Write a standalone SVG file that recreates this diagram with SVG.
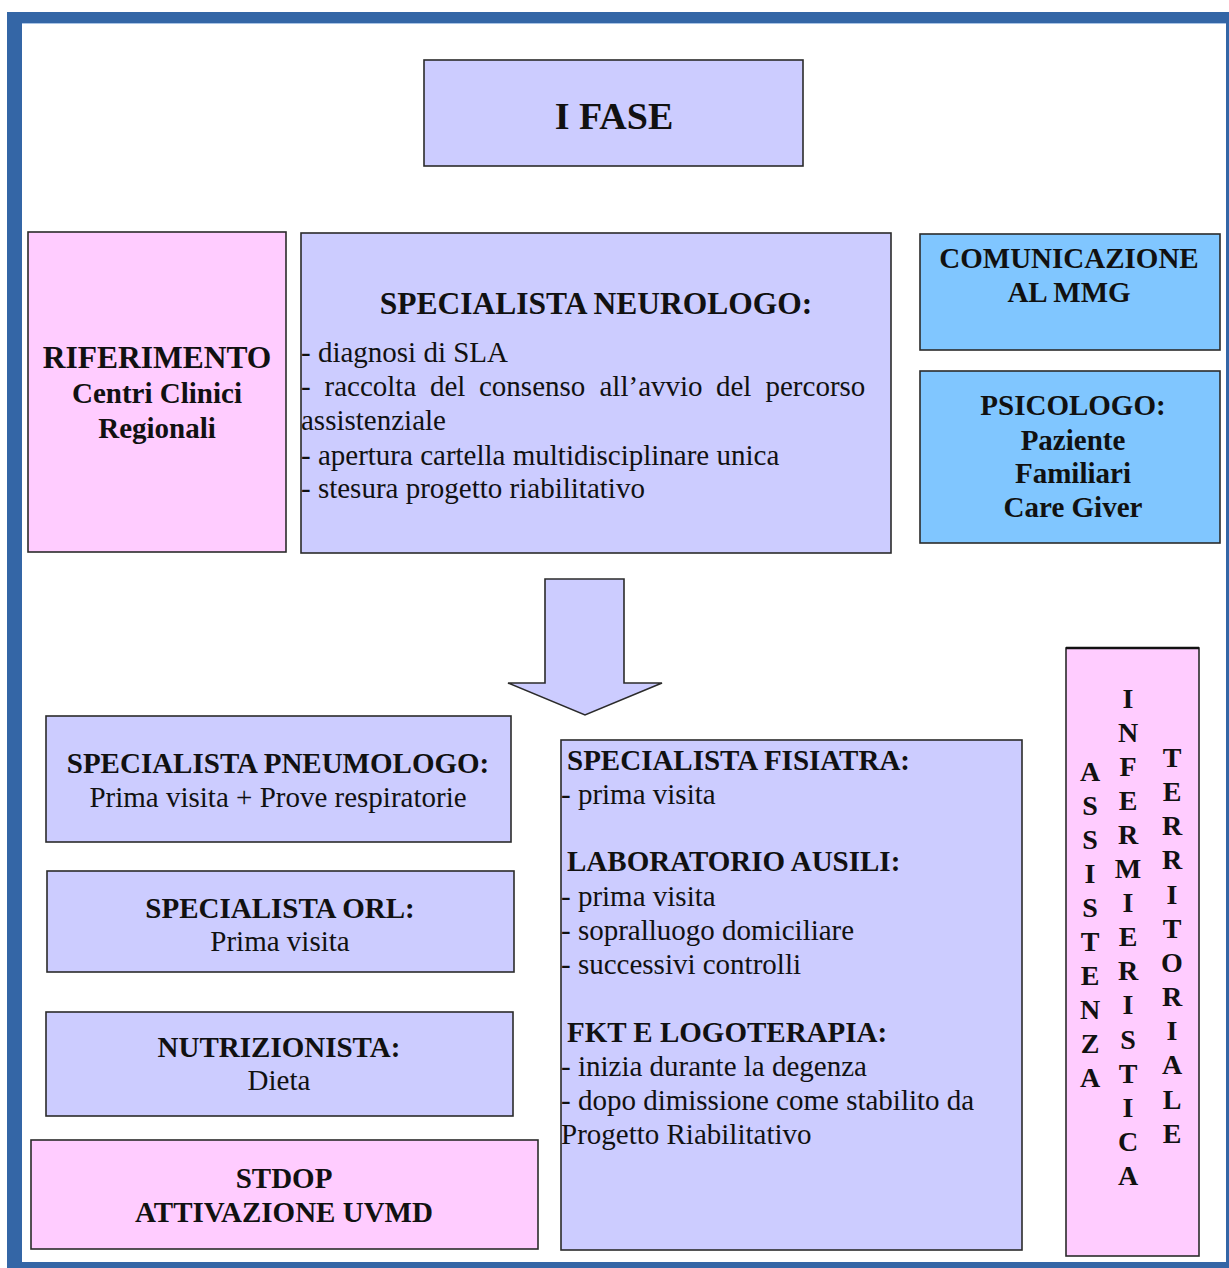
<svg xmlns="http://www.w3.org/2000/svg" width="1229" height="1268" viewBox="0 0 1229 1268">
<defs>
<style>
.box{stroke:#2b2b2b;stroke-width:1.6}
.lav{fill:#ccccff}
.pink{fill:#ffccff}
.sky{fill:#80c6ff}
text{font-family:"Liberation Serif","Times New Roman",serif;fill:#111}
.b{font-weight:bold;font-size:29px}
.r{font-size:29px}
.c{text-anchor:middle}
.v{font-weight:bold;font-size:28px;text-anchor:middle}
</style>
</defs>
<rect x="0" y="0" width="1229" height="1268" fill="#ffffff"/>
<rect x="7" y="12" width="1222" height="1256" fill="#3466a6"/>
<rect x="22" y="23" width="1204" height="1239" fill="#ffffff"/>
<line x1="22" y1="23.5" x2="1226" y2="23.5" stroke="#a9c4e6" stroke-width="1"/>

<g id="connectors">
<polygon points="545,579 624,579 624,683 662,683 585,715 508,683 545,683" fill="#ccccff" stroke="#2b2b2b" stroke-width="1.6"/>
</g>

<g id="i-fase">
<rect class="box lav" x="424" y="60" width="379" height="106"/>
<text class="c" x="614" y="129" font-weight="bold" font-size="38">I FASE</text>
</g>

<g id="riferimento">
<rect class="box pink" x="28" y="232" width="258" height="320"/>
<text class="c" x="157" y="368" font-weight="bold" font-size="31.5">RIFERIMENTO</text>
<text class="b c" x="157" y="403">Centri Clinici</text>
<text class="b c" x="157" y="438">Regionali</text>
</g>

<g id="neurologo">
<rect class="box lav" x="301" y="233" width="590" height="320"/>
<text class="c" x="596" y="314" font-weight="bold" font-size="31.5">SPECIALISTA NEUROLOGO:</text>
<text class="r" x="301" y="362">- diagnosi di SLA</text>
<text class="r" y="396"><tspan x="301">-</tspan><tspan x="324.5">raccolta</tspan><tspan x="430">del</tspan><tspan x="479">consenso</tspan><tspan x="599.5">all’avvio</tspan><tspan x="716">del</tspan><tspan x="765.5">percorso</tspan></text>
<text class="r" x="301" y="430">assistenziale</text>
<text class="r" x="301" y="465">- apertura cartella multidisciplinare unica</text>
<text class="r" x="301" y="498">- stesura progetto riabilitativo</text>
</g>

<g id="comunicazione">
<rect class="box sky" x="920" y="234" width="300" height="116"/>
<text class="b c" x="1069" y="268">COMUNICAZIONE</text>
<text class="b c" x="1069" y="302">AL MMG</text>
</g>

<g id="psicologo">
<rect class="box sky" x="920" y="371" width="300" height="172"/>
<text class="b c" x="1073" y="415">PSICOLOGO:</text>
<text class="b c" x="1073" y="450">Paziente</text>
<text class="b c" x="1073" y="483">Familiari</text>
<text class="b c" x="1073" y="517">Care Giver</text>
</g>

<g id="pneumologo">
<rect class="box lav" x="46" y="716" width="465" height="126"/>
<text class="b c" x="278" y="773">SPECIALISTA PNEUMOLOGO:</text>
<text class="r c" x="278" y="807">Prima visita + Prove respiratorie</text>
</g>

<g id="orl">
<rect class="box lav" x="47" y="871" width="467" height="101"/>
<text class="b c" x="280" y="918">SPECIALISTA ORL:</text>
<text class="r c" x="280" y="951">Prima visita</text>
</g>

<g id="nutrizionista">
<rect class="box lav" x="46" y="1012" width="467" height="104"/>
<text class="b c" x="279" y="1057">NUTRIZIONISTA:</text>
<text class="r c" x="279" y="1090">Dieta</text>
</g>

<g id="stdop">
<rect class="box pink" x="31" y="1140" width="507" height="109"/>
<text class="b c" x="284" y="1188">STDOP</text>
<text class="b c" x="284" y="1222">ATTIVAZIONE UVMD</text>
</g>

<g id="fisiatra">
<rect class="box lav" x="561" y="740" width="461" height="510"/>
<text class="b" x="567" y="770">SPECIALISTA FISIATRA:</text>
<text class="r" x="561" y="804">- prima visita</text>
<text class="b" x="567" y="871">LABORATORIO AUSILI:</text>
<text class="r" x="561" y="906">- prima visita</text>
<text class="r" x="561" y="940">- sopralluogo domiciliare</text>
<text class="r" x="561" y="974">- successivi controlli</text>
<text class="b" x="567" y="1042">FKT E LOGOTERAPIA:</text>
<text class="r" x="561" y="1076">- inizia durante la degenza</text>
<text class="r" x="561" y="1110">- dopo dimissione come stabilito da</text>
<text class="r" x="561" y="1144">Progetto Riabilitativo</text>
</g>

<g id="assistenza-infermieristica-territoriale">
<rect class="box pink" x="1066" y="648" width="133" height="608"/>
<line x1="1066" y1="648" x2="1199" y2="648" stroke="#111" stroke-width="2.5"/>
<text class="v"><tspan x="1090" y="781">A</tspan><tspan x="1090" y="815">S</tspan><tspan x="1090" y="849">S</tspan><tspan x="1090" y="883">I</tspan><tspan x="1090" y="917">S</tspan><tspan x="1090" y="951">T</tspan><tspan x="1090" y="985">E</tspan><tspan x="1090" y="1019">N</tspan><tspan x="1090" y="1053">Z</tspan><tspan x="1090" y="1087">A</tspan></text>
<text class="v"><tspan x="1128" y="708">I</tspan><tspan x="1128" y="742">N</tspan><tspan x="1128" y="776">F</tspan><tspan x="1128" y="810">E</tspan><tspan x="1128" y="844">R</tspan><tspan x="1128" y="878">M</tspan><tspan x="1128" y="912">I</tspan><tspan x="1128" y="946">E</tspan><tspan x="1128" y="980">R</tspan><tspan x="1128" y="1014">I</tspan><tspan x="1128" y="1049">S</tspan><tspan x="1128" y="1083">T</tspan><tspan x="1128" y="1117">I</tspan><tspan x="1128" y="1151">C</tspan><tspan x="1128" y="1185">A</tspan></text>
<text class="v"><tspan x="1172" y="767">T</tspan><tspan x="1172" y="801">E</tspan><tspan x="1172" y="835">R</tspan><tspan x="1172" y="869">R</tspan><tspan x="1172" y="904">I</tspan><tspan x="1172" y="938">T</tspan><tspan x="1172" y="972">O</tspan><tspan x="1172" y="1006">R</tspan><tspan x="1172" y="1040">I</tspan><tspan x="1172" y="1074">A</tspan><tspan x="1172" y="1109">L</tspan><tspan x="1172" y="1143">E</tspan></text>
</g>
</svg>
